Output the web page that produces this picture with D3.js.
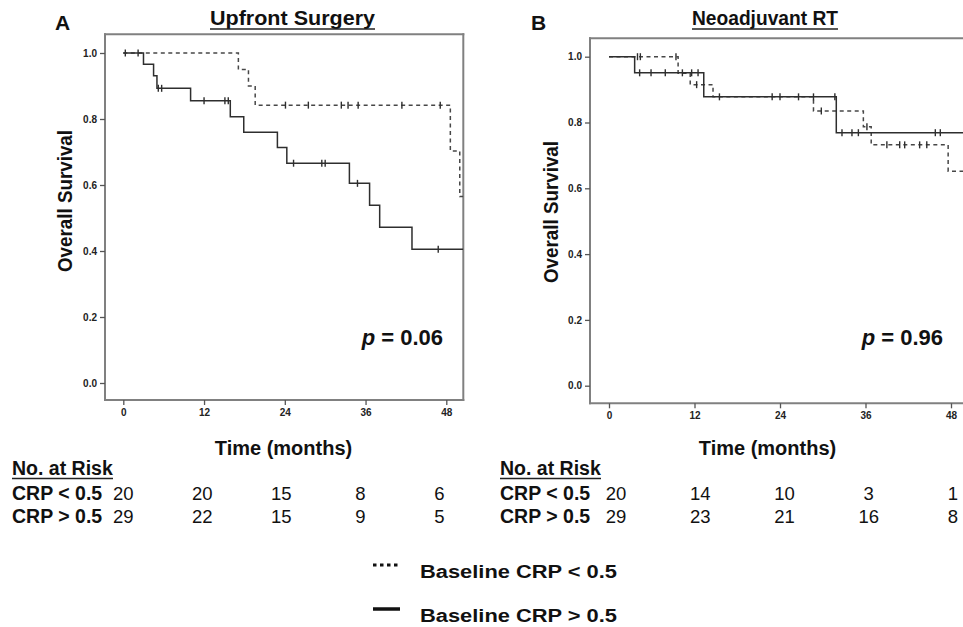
<!DOCTYPE html>
<html><head><meta charset="utf-8">
<script src="https://cdn.jsdelivr.net/npm/d3@7/dist/d3.min.js"></script>
<style>body{margin:0;background:#fff}svg text{font-family:"Liberation Sans",Arial,Helvetica,sans-serif}</style>
</head><body><svg id="c" width="963" height="627"></svg>
<script>
// ---------- data ----------
const xTicks = [0, 12, 24, 36, 48];
const yTicks = [0, 0.2, 0.4, 0.6, 0.8, 1.0];
const riskRowLabels = ["CRP < 0.5", "CRP > 0.5"];
const legendLabels = ["Baseline CRP < 0.5", "Baseline CRP > 0.5"];
const panelTitles = ["Upfront Surgery", "Neoadjuvant RT"];
const panelLetters = ["A", "B"];
const pValues = ["0.06", "0.96"];

// Panel A - Upfront Surgery
const aLowTimes   = [0, 17.1, 18.6, 19.6, 48.6, 50.0];
const aLowSurv    = [1.0, 0.95, 0.90, 0.842, 0.703, 0.565];
const aLowCensor  = [24.1, 27.5, 32.4, 33.4, 34.9, 41.4, 47.1];
const aHighTimes  = [0, 3.0, 4.5, 5.0, 10.0, 15.9, 17.9, 22.9, 24.3, 33.6, 36.6, 38.1, 42.9];
const aHighSurv   = [1.0, 0.966, 0.931, 0.893, 0.855, 0.807, 0.76, 0.714, 0.666, 0.605, 0.539, 0.472, 0.405];
const aHighCensor = [0.3, 2.2, 5.2, 5.7, 12.0, 15.1, 15.6, 25.3, 29.5, 30.0, 34.8, 46.8];
const riskALow  = [20, 20, 15, 8, 6];
const riskAHigh = [29, 22, 15, 9, 5];

// Panel B - Neoadjuvant RT
const bLowTimes   = [0, 9.7, 11.4, 14.6, 28.7, 35.7, 36.8, 47.6];
const bLowSurv    = [1.0, 0.95, 0.915, 0.878, 0.835, 0.787, 0.732, 0.652];
const bLowCensor  = [4.0, 4.4, 9.4, 12.3, 29.8, 36.2, 39.0, 40.8, 41.5, 43.6, 44.6];
const bHighTimes  = [0, 3.6, 13.3, 31.9];
const bHighSurv   = [1.0, 0.951, 0.878, 0.769];
const bHighCensor = [4.3, 5.9, 7.9, 10.3, 11.6, 12.5, 15.5, 22.9, 24.0, 26.6, 28.7, 31.7, 32.7, 34.1, 35.0, 45.8, 46.5];
const riskBLow  = [20, 14, 10, 3, 1];
const riskBHigh = [29, 23, 21, 16, 8];

// ---------- layout ----------
const svg = d3.select("#c");
const FONT = '"Liberation Sans",Arial,sans-serif';

const panels = [
  {letter: panelLetters[0], title: panelTitles[0], p: pValues[0],
   x0: 123.3, x48: 446.3, y0: 383, y1: 53,
   frame: {l: 105, r: 463.3, t: 34.3, b: 400}, tMax: 50.5,
   low: {t: aLowTimes, s: aLowSurv, c: aLowCensor},
   high: {t: aHighTimes, s: aHighSurv, c: aHighCensor},
   risk: [riskALow, riskAHigh],
   letterX: 55, titleX: 210, titleW: 165,
   yLabX: 72, yLabY: 201, timeX: 283.5, pX: 443, tableX: 12,
   riskShift: (t) => -(t / 48) * 7},
  {letter: panelLetters[1], title: panelTitles[1], p: pValues[1],
   x0: 609, x48: 951, y0: 385.7, y1: 56.7,
   frame: {l: 590, r: 969, t: 38.3, b: 403.3}, tMax: 50.5,
   low: {t: bLowTimes, s: bLowSurv, c: bLowCensor},
   high: {t: bHighTimes, s: bHighSurv, c: bHighCensor},
   risk: [riskBLow, riskBHigh],
   letterX: 531, titleX: 692, titleW: 146,
   yLabX: 558, yLabY: 212, timeX: 767.5, pX: 943, tableX: 500,
   riskShift: (t) => 7 - (t / 48) * 5}
];

panels.forEach(P => {
  const x = d3.scaleLinear().domain([0, 48]).range([P.x0, P.x48]);
  const y = d3.scaleLinear().domain([0, 1]).range([P.y0, P.y1]);
  const g = svg.append("g");
  const F = P.frame;

  // frame
  const frameCol = "#808080";
  [[F.l, F.t, F.r, F.t], [F.r, F.t, F.r, F.b], [F.l, F.b, F.r, F.b], [F.l, F.t, F.l, F.b]].forEach(s => {
    g.append("line").attr("x1", s[0]).attr("y1", s[1]).attr("x2", s[2]).attr("y2", s[3])
      .attr("stroke", frameCol).attr("stroke-width", 2).attr("stroke-linecap", "square");
  });

  // axes
  const ya = g.append("g").attr("transform", `translate(${F.l},0)`)
    .call(d3.axisLeft(y).tickValues(yTicks).tickSize(5).tickPadding(3).tickFormat(d3.format(".1f")));
  const xa = g.append("g").attr("transform", `translate(0,${F.b})`)
    .call(d3.axisBottom(x).tickValues(xTicks).tickSize(5).tickPadding(4).tickFormat(d3.format("d")));
  [ya, xa].forEach(a => {
    a.select(".domain").remove();
    a.selectAll(".tick line").attr("stroke", "#555").attr("stroke-width", 1.3);
    a.selectAll(".tick text").attr("font-family", FONT).attr("font-size", 10)
      .attr("font-weight", "bold").attr("fill", "#222");
  });

  // curves
  const line = d3.line().x(d => x(d[0])).y(d => y(d[1])).curve(d3.curveStepAfter);
  const survAt = (ser, t) => {
    let s = ser.s[0];
    ser.t.forEach((tt, i) => { if (tt <= t) s = ser.s[i]; });
    return s;
  };
  const drawCurve = (ser, dashed) => {
    const pts = ser.t.map((t, i) => [t, ser.s[i]]);
    pts.push([P.tMax, ser.s[ser.s.length - 1]]);
    g.append("path").attr("d", line(pts)).attr("fill", "none")
      .attr("stroke", dashed ? "#474747" : "#2e2e2e").attr("stroke-width", 1.5)
      .attr("stroke-dasharray", dashed ? "4,3.5" : null);
    ser.c.forEach(t => {
      const s = survAt(ser, t);
      g.append("line").attr("x1", x(t)).attr("x2", x(t))
        .attr("y1", y(s) - 3.5).attr("y2", y(s) + 3.5)
        .attr("stroke", "#2e2e2e").attr("stroke-width", 1.4);
    });
  };
  drawCurve(P.low, true);
  drawCurve(P.high, false);

  // texts
  g.append("text").attr("x", P.letterX).attr("y", 30).attr("font-size", 21)
    .attr("font-weight", "bold").attr("fill", "#111").text(P.letter);
  g.append("text").attr("x", P.titleX).attr("y", 25).attr("font-size", 19.5)
    .attr("font-weight", "bold").attr("fill", "#111")
    .attr("textLength", P.titleW).attr("lengthAdjust", "spacingAndGlyphs").text(P.title);
  g.append("line").attr("x1", P.titleX).attr("x2", P.titleX + P.titleW)
    .attr("y1", 29).attr("y2", 29).attr("stroke", "#222").attr("stroke-width", 1.6);

  g.append("text").attr("transform", `translate(${P.yLabX},${P.yLabY}) rotate(-90)`)
    .attr("text-anchor", "middle").attr("font-size", 21).attr("font-weight", "bold")
    .attr("fill", "#111").attr("textLength", 142).attr("lengthAdjust", "spacingAndGlyphs")
    .text("Overall Survival");

  g.append("text").attr("x", P.timeX).attr("y", 455).attr("text-anchor", "middle")
    .attr("font-size", 20).attr("font-weight", "bold").attr("fill", "#111").text("Time (months)");

  const pt = g.append("text").attr("x", P.pX).attr("y", 345).attr("text-anchor", "end")
    .attr("font-size", 22).attr("font-weight", "bold").attr("fill", "#111");
  pt.append("tspan").attr("font-style", "italic").text("p");
  pt.append("tspan").text(" = " + P.p);

  // risk table
  g.append("text").attr("x", P.tableX).attr("y", 475).attr("font-size", 19.5)
    .attr("font-weight", "bold").attr("fill", "#111").text("No. at Risk");
  g.append("line").attr("x1", P.tableX).attr("x2", P.tableX + 101).attr("y1", 478.5).attr("y2", 478.5)
    .attr("stroke", "#222").attr("stroke-width", 1.6);
  P.risk.forEach((row, r) => {
    const yy = 500 + r * 23;
    g.append("text").attr("x", P.tableX).attr("y", yy).attr("font-size", 19.5)
      .attr("font-weight", "bold").attr("fill", "#111").text(riskRowLabels[r]);
    row.forEach((v, i) => {
      const t = xTicks[i];
      g.append("text").attr("x", x(t) + P.riskShift(t)).attr("y", yy).attr("text-anchor", "middle")
        .attr("font-size", 18.5).attr("fill", "#111").text(v);
    });
  });
});

// legend
const lg = svg.append("g");
legendLabels.forEach((lab, i) => {
  const yy = 565 + i * 44;
  lg.append("line").attr("x1", 373).attr("x2", 400).attr("y1", yy).attr("y2", yy)
    .attr("stroke", "#111").attr("stroke-width", i === 0 ? 3 : 3.5)
    .attr("stroke-dasharray", i === 0 ? "3.5,3.5" : null);
  lg.append("text").attr("x", 420).attr("y", yy + 12.5).attr("font-size", 18)
    .attr("font-weight", "bold").attr("fill", "#111")
    .attr("textLength", 197).attr("lengthAdjust", "spacingAndGlyphs").text(lab);
});
</script></body></html>
